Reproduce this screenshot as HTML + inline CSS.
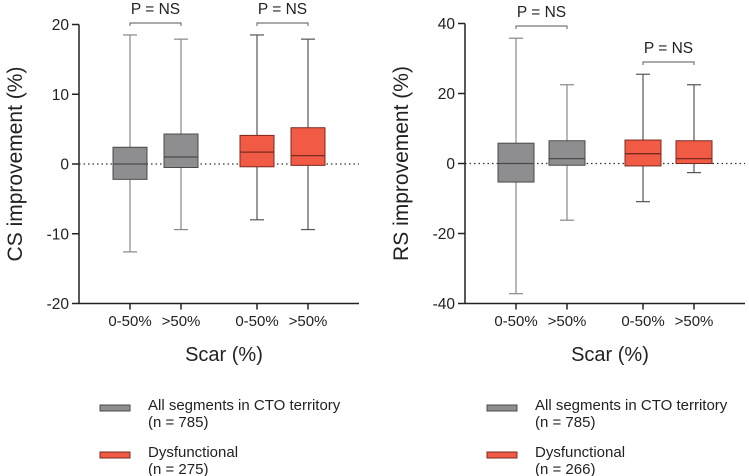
<!DOCTYPE html>
<html><head><meta charset="utf-8"><style>
body{margin:0;background:#fff}
svg{display:block;font-family:"Liberation Sans",Arial,sans-serif}
</style></head><body>
<svg id="c" width="749" height="476" viewBox="0 0 749 476"></svg>
<script>
const categories=["0-50%",">50%","0-50%",">50%"];
const groups=["gray","gray","red","red"];
const csMin=[-12.6,-9.4,-8.0,-9.4];
const csQ1=[-2.2,-0.5,-0.4,-0.2];
const csMed=[0,1.0,1.7,1.2];
const csQ3=[2.4,4.3,4.1,5.2];
const csMax=[18.5,17.9,18.5,17.9];
const csTicks=[20,10,0,-10,-20];
const rsMin=[-37.2,-16.2,-10.9,-2.6];
const rsQ1=[-5.3,-0.5,-0.7,0];
const rsMed=[0,1.4,2.8,1.4];
const rsQ3=[5.8,6.5,6.7,6.5];
const rsMax=[35.8,22.5,25.5,22.5];
const rsTicks=[40,20,0,-20,-40];
const legendLabels=[["All segments in CTO territory","(n = 785)"],["Dysfunctional","(n = 275)"],["All segments in CTO territory","(n = 785)"],["Dysfunctional","(n = 266)"]];

const NS="http://www.w3.org/2000/svg";
const svg=document.getElementById('c');
function mk(tag,attrs,parent,text){const e=document.createElementNS(NS,tag);for(const k in attrs)e.setAttribute(k,attrs[k]);if(text!==undefined)e.textContent=text;(parent||svg).appendChild(e);return e;}
const fill={gray:"#8e8e90",red:"#f15a45"};
const stroke={gray:"#4a4a4a",red:"#7a2a20"};

function panel(o){
  const g=mk('g',{});
  
  
  const y=v=>o.y0-(v-o.ymin)/(o.ymax-o.ymin)*(o.y0-o.y1);
  const ax=mk('line',{x1:o.ax,y1:o.y1,x2:o.ax,y2:o.y0,stroke:'#222','stroke-width':1.5},g);
  
  const bx=mk('line',{x1:o.ax,y1:o.y0,x2:o.axEnd,y2:o.y0,stroke:'#222','stroke-width':1.5},g);
  
  o.ticks.forEach(t=>{
    mk('line',{x1:o.ax-7,y1:y(t),x2:o.ax,y2:y(t),stroke:'#222','stroke-width':1.5},g);
    const tl=mk('text',{x:o.ax-10,y:y(t)+5.5,'text-anchor':'end','font-size':15.5,fill:'#222'},g,String(t));
    
  });
  const zl=mk('line',{x1:o.ax,y1:y(0),x2:o.axEnd,y2:y(0),stroke:'#333','stroke-width':1.2,'stroke-dasharray':'1.5 3'},g);
  
  const yt=mk('text',{transform:`translate(${o.titleX},${(o.y0+o.y1)/2}) rotate(-90)`,'text-anchor':'middle','font-size':21,fill:'#222'},g,o.title);
  
  categories.forEach((c,i)=>{
    const cx=o.cx[i],w=o.bw;
    mk('line',{x1:cx,y1:o.y0,x2:cx,y2:o.y0+6,stroke:'#222','stroke-width':1.5},g);
    const xl=mk('text',{x:cx,y:326,'text-anchor':'middle','font-size':15,fill:'#222'},g,c);
    
    const gr=groups[i];
    const bg=mk('g',{},g);
    
    
    const wc=gr==='gray'?'#888':'#555';
    mk('line',{x1:cx,y1:y(o.max[i]),x2:cx,y2:y(o.q3[i]),stroke:wc,'stroke-width':1.2},bg);
    mk('line',{x1:cx,y1:y(o.q1[i]),x2:cx,y2:y(o.min[i]),stroke:wc,'stroke-width':1.2},bg);
    mk('line',{x1:cx-7,y1:y(o.max[i]),x2:cx+7,y2:y(o.max[i]),stroke:wc,'stroke-width':1.2},bg);
    mk('line',{x1:cx-7,y1:y(o.min[i]),x2:cx+7,y2:y(o.min[i]),stroke:wc,'stroke-width':1.2},bg);
    mk('rect',{x:cx-w/2,y:y(o.q3[i]),width:w,height:y(o.q1[i])-y(o.q3[i]),fill:fill[gr],stroke:stroke[gr],'stroke-width':1},bg);
    mk('line',{x1:cx-w/2,y1:y(o.med[i]),x2:cx+w/2,y2:y(o.med[i]),stroke:stroke[gr],'stroke-width':1.3},bg);
  });
  o.brackets.forEach(b=>{
    const a=o.cx[b.i],c=o.cx[b.i+1];
    const bg=mk('g',{},g);
    
    mk('path',{d:`M${a},${b.y+3}V${b.y}H${c}V${b.y+3}`,fill:'none',stroke:'#777','stroke-width':1.2},bg);
    mk('text',{x:(a+c)/2,y:b.y-9,'text-anchor':'middle','font-size':15.5,fill:'#222'},bg,'P = NS');
  });
  const st=mk('text',{x:(o.ax+o.axEnd)/2+5,y:361,'text-anchor':'middle','font-size':20,fill:'#222'},g,'Scar (%)');
  
  [0,1].forEach(k=>{
    const lg=mk('g',{},g);
    
    const gy=k?452:405;
    const gr=k?'red':'gray';
    mk('rect',{x:o.lx,y:gy,width:30,height:6,fill:fill[gr],stroke:stroke[gr],'stroke-width':1},lg);
    const lab=legendLabels[o.li+k];
    mk('text',{x:o.lx+48,y:gy+5,'font-size':15,fill:'#222'},lg,lab[0]);
    mk('text',{x:o.lx+48,y:gy+22,'font-size':15,fill:'#222'},lg,lab[1]);
  });
}
panel({name:'cs-panel',ax:79,axEnd:359,y0:303.5,y1:24.5,ymin:-20,ymax:20,ticks:csTicks,cx:[130,181,257,308],bw:34,
  min:csMin,q1:csQ1,med:csMed,q3:csQ3,max:csMax,title:'CS improvement (%)',titleX:22,
  brackets:[{i:0,y:23},{i:2,y:23}],lx:100,li:0});
panel({name:'rs-panel',ax:465,axEnd:745,y0:303.5,y1:23.5,ymin:-40,ymax:40,ticks:rsTicks,cx:[516,567,643,694],bw:36,
  min:rsMin,q1:rsQ1,med:rsMed,q3:rsQ3,max:rsMax,title:'RS improvement (%)',titleX:408,
  brackets:[{i:0,y:26},{i:2,y:62}],lx:487,li:2});
</script>
</body></html>
